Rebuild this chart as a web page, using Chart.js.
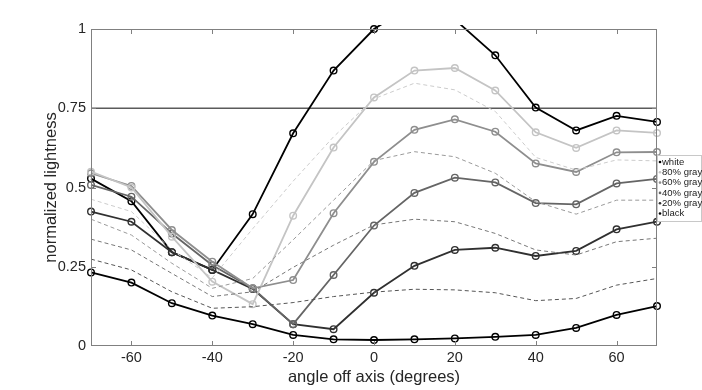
<!DOCTYPE html>
<html>
<head>
<meta charset="utf-8">
<script src="https://cdn.jsdelivr.net/npm/chart.js@4"></script>
<style>
  html, body { margin: 0; padding: 0; background: #fff; }
</style>
</head>
<body>
<canvas id="chart" width="702" height="390"></canvas>
<script>
// angles (degrees) and measured lightness per test patch
const angles = [-70, -60, -50, -40, -30, -20, -10, 0, 10, 20, 30, 40, 50, 60, 70];

const white  = [0.528, 0.457, 0.296, 0.240, 0.416, 0.671, 0.869, 1.000, 1.080, 1.030, 0.917, 0.752, 0.680, 0.726, 0.707];
const gray80 = [0.550, 0.500, 0.345, 0.203, 0.132, 0.411, 0.626, 0.784, 0.869, 0.877, 0.806, 0.674, 0.625, 0.680, 0.672];
const gray60 = [0.545, 0.505, 0.366, 0.266, 0.182, 0.208, 0.419, 0.581, 0.682, 0.715, 0.676, 0.576, 0.549, 0.611, 0.612];
const gray40 = [0.508, 0.471, 0.355, 0.255, 0.182, 0.069, 0.224, 0.380, 0.483, 0.531, 0.516, 0.451, 0.447, 0.513, 0.527];
const gray20 = [0.424, 0.392, 0.296, 0.240, 0.180, 0.069, 0.053, 0.168, 0.253, 0.303, 0.310, 0.284, 0.300, 0.368, 0.392];
const black  = [0.232, 0.200, 0.135, 0.096, 0.069, 0.035, 0.021, 0.019, 0.021, 0.024, 0.029, 0.035, 0.057, 0.098, 0.126];

// dashed reference curves
const dash1 = [0.463, 0.424, 0.303, 0.215, 0.370, 0.520, 0.660, 0.780, 0.829, 0.808, 0.740, 0.595, 0.555, 0.587, 0.584];
const dash2 = [0.400, 0.350, 0.261, 0.182, 0.213, 0.335, 0.460, 0.585, 0.613, 0.597, 0.545, 0.455, 0.416, 0.460, 0.460];
const dash3 = [0.337, 0.303, 0.229, 0.156, 0.171, 0.248, 0.318, 0.382, 0.400, 0.392, 0.355, 0.303, 0.287, 0.329, 0.340];
const dash4 = [0.274, 0.240, 0.171, 0.119, 0.124, 0.137, 0.156, 0.170, 0.179, 0.177, 0.168, 0.143, 0.150, 0.192, 0.213];

const legendLabels = ['white', '80% gray', '60% gray', '40% gray', '20% gray', 'black'];
const xTicks = [-60, -40, -20, 0, 20, 40, 60];
const yTicks = [0, 0.25, 0.5, 0.75, 1];
const refLevel = 0.75;

const FONT = '"Liberation Sans", Arial, Helvetica, sans-serif';
const AXIS_COLOR = '#808080';

const toPoints = vals => angles.map((a, i) => ({ x: a, y: vals[i] }));

const solid = (label, vals, color) => ({
    label,
    data: toPoints(vals),
    borderColor: color,
    backgroundColor: color,
    borderWidth: 1.8,
    pointRadius: 3.3,
    pointBorderWidth: 1.4,
    pointBackgroundColor: 'rgba(0,0,0,0)',
    pointBorderColor: color,
    tension: 0,
    clip: { left: 6, top: 4, right: 6, bottom: 6 }
});

const dashed = (vals, color) => ({
    label: '',
    data: toPoints(vals),
    borderColor: color,
    borderWidth: 1,
    borderDash: [4, 3],
    pointRadius: 0,
    tension: 0,
    clip: 2
});

const solidColors = ['#000000', '#c4c4c4', '#8e8e8e', '#656565', '#303030', '#000000'];

const datasets = [
    dashed(dash4, '#555555'),
    dashed(dash3, '#777777'),
    dashed(dash2, '#9a9a9a'),
    dashed(dash1, '#cccccc'),
    solid(legendLabels[5], black, solidColors[5]),
    solid(legendLabels[1], gray80, solidColors[1]),
    solid(legendLabels[2], gray60, solidColors[2]),
    solid(legendLabels[3], gray40, solidColors[3]),
    solid(legendLabels[4], gray20, solidColors[4]),
    solid(legendLabels[0], white, solidColors[0])
];

// box, inward ticks, 0.75 line and small legend (matlab look)
const framePlugin = {
    id: 'frame',
    beforeDatasetsDraw(chart) {
        const { ctx, chartArea: a, scales: { y } } = chart;
        const yy = y.getPixelForValue(refLevel);
        ctx.save();
        ctx.strokeStyle = '#5a5a5a';
        ctx.lineWidth = 1.5;
        ctx.beginPath();
        ctx.moveTo(a.left, yy);
        ctx.lineTo(a.right, yy);
        ctx.stroke();
        ctx.restore();
    },
    afterDatasetsDraw(chart) {
        const { ctx, chartArea: a, scales: { x, y } } = chart;
        ctx.save();
        ctx.strokeStyle = AXIS_COLOR;
        ctx.lineWidth = 1;
        ctx.strokeRect(a.left + 0.5, a.top + 0.5, a.right - a.left - 1, a.bottom - a.top - 1);
        ctx.beginPath();
        xTicks.forEach(v => {
            const px = Math.round(x.getPixelForValue(v)) + 0.5;
            ctx.moveTo(px, a.bottom); ctx.lineTo(px, a.bottom - 5);
            ctx.moveTo(px, a.top); ctx.lineTo(px, a.top + 5);
        });
        yTicks.slice(1, -1).forEach(v => {
            const py = Math.round(y.getPixelForValue(v)) + 0.5;
            ctx.moveTo(a.left, py); ctx.lineTo(a.left + 5, py);
            ctx.moveTo(a.right, py); ctx.lineTo(a.right - 5, py);
        });
        ctx.stroke();
        ctx.restore();
    },
    afterDraw(chart) {
        const { ctx, chartArea: a } = chart;
        const bx = a.right, by = 155, bw = 45, bh = 67;
        ctx.save();
        ctx.fillStyle = '#ffffff';
        ctx.fillRect(bx, by, bw, bh);
        ctx.strokeStyle = '#c8c8c8';
        ctx.lineWidth = 1;
        ctx.strokeRect(bx + 0.5, by + 0.5, bw - 1, bh - 1);
        ctx.font = '9.5px ' + FONT;
        ctx.textBaseline = 'middle';
        legendLabels.forEach((lbl, i) => {
            const ly = by + 7 + i * 10.3;
            ctx.fillStyle = solidColors[i];
            ctx.beginPath();
            ctx.arc(bx + 3, ly, 1.3, 0, Math.PI * 2);
            ctx.fill();
            ctx.fillStyle = '#222';
            ctx.fillText(lbl, bx + 5, ly);
        });
        ctx.restore();
    }
};

new Chart(document.getElementById('chart'), {
    type: 'line',
    data: { datasets },
    options: {
        responsive: false,
        animation: false,
        layout: { padding: { left: 0, top: 29, right: 45, bottom: 0 } },
        plugins: { legend: { display: false }, tooltip: { enabled: false } },
        scales: {
            x: {
                type: 'linear',
                min: -70,
                max: 70,
                afterBuildTicks: s => { s.ticks = xTicks.map(v => ({ value: v })); },
                afterFit: s => { s.height = 44; },
                grid: { display: false, drawTicks: false },
                border: { display: false },
                ticks: { font: { family: FONT, size: 14.5 }, color: '#262626', padding: 3, maxRotation: 0 },
                title: { display: true, text: 'angle off axis (degrees)', font: { family: FONT, size: 16.5 }, color: '#262626', padding: { top: 0, bottom: 3 } }
            },
            y: {
                min: 0,
                max: 1,
                afterBuildTicks: s => { s.ticks = yTicks.map(v => ({ value: v })); },
                afterFit: s => { s.width = 91; },
                grid: { display: false, drawTicks: false },
                border: { display: false },
                ticks: { font: { family: FONT, size: 14.5 }, color: '#262626', padding: 5, callback: v => String(v) },
                title: { display: true, text: 'normalized lightness', font: { family: FONT, size: 16.5 }, color: '#262626', padding: { top: 42, bottom: 0 } }
            }
        }
    },
    plugins: [framePlugin]
});
</script>
</body>
</html>
